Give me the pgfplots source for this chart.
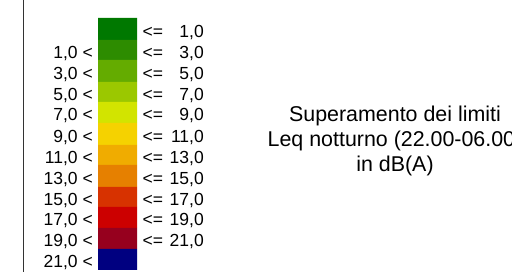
\documentclass[border=0pt]{standalone}
\usepackage{pgfplots}
\pgfplotsset{compat=1.18}
\usepackage{fontspec}
\setmainfont{Liberation Sans}
\definecolor{c1}{HTML}{007800}
\definecolor{c2}{HTML}{2D8C00}
\definecolor{c3}{HTML}{64AC00}
\definecolor{c4}{HTML}{9BC800}
\definecolor{c5}{HTML}{D2E400}
\definecolor{c6}{HTML}{F5D200}
\definecolor{c7}{HTML}{F0AC00}
\definecolor{c8}{HTML}{E68000}
\definecolor{c9}{HTML}{D73200}
\definecolor{c10}{HTML}{CC0000}
\definecolor{c11}{HTML}{96001E}
\definecolor{c12}{HTML}{000080}
\tikzset{
  ll/.style={anchor=base east, inner sep=0pt, font=\fontsize{17.5}{21}\selectfont},
  rl/.style={anchor=base west, inner sep=0pt, font=\fontsize{17.5}{21}\selectfont},
  tl/.style={anchor=base, inner sep=0pt, font=\fontsize{21.4}{25}\selectfont},
}
\begin{document}
\begin{tikzpicture}
\begin{axis}[
  width=512pt, height=272pt, scale only axis,
  xmin=0, xmax=512, ymin=0, ymax=272, y dir=reverse,
  hide axis, clip=false,
]
\addplot[draw=black!80, line width=1pt] coordinates {(23.5,0) (23.5,272)};
\addplot[fill=c1, draw=none] coordinates {(98,18) (137,18) (137,40) (98,40) (98,18)};
\addplot[fill=c2, draw=none] coordinates {(98,40) (137,40) (137,60) (98,60) (98,40)};
\addplot[fill=c3, draw=none] coordinates {(98,60) (137,60) (137,82) (98,82) (98,60)};
\addplot[fill=c4, draw=none] coordinates {(98,82) (137,82) (137,102) (98,102) (98,82)};
\addplot[fill=c5, draw=none] coordinates {(98,102) (137,102) (137,123) (98,123) (98,102)};
\addplot[fill=c6, draw=none] coordinates {(98,123) (137,123) (137,145) (98,145) (98,123)};
\addplot[fill=c7, draw=none] coordinates {(98,145) (137,145) (137,165) (98,165) (98,145)};
\addplot[fill=c8, draw=none] coordinates {(98,165) (137,165) (137,187) (98,187) (98,165)};
\addplot[fill=c9, draw=none] coordinates {(98,187) (137,187) (137,207) (98,207) (98,187)};
\addplot[fill=c10, draw=none] coordinates {(98,207) (137,207) (137,228) (98,228) (98,207)};
\addplot[fill=c11, draw=none] coordinates {(98,228) (137,228) (137,249) (98,249) (98,228)};
\addplot[fill=c12, draw=none] coordinates {(98,249) (137,249) (137,270) (98,270) (98,249)};
% left labels
\node[ll] at (axis cs:93,58.5) {1,0 <};
\node[ll] at (axis cs:93,79.5) {3,0 <};
\node[ll] at (axis cs:93,100.5) {5,0 <};
\node[ll] at (axis cs:93,120.5) {7,0 <};
\node[ll] at (axis cs:93,142.5) {9,0 <};
\node[ll] at (axis cs:93,163.5) {11,0 <};
\node[ll] at (axis cs:93,184.5) {13,0 <};
\node[ll] at (axis cs:93,205.5) {15,0 <};
\node[ll] at (axis cs:93,226) {17,0 <};
\node[ll] at (axis cs:93,247) {19,0 <};
\node[ll] at (axis cs:93,268) {21,0 <};
% right labels
\node[rl] at (axis cs:142.5,37.5) {<=};
\node[rl] at (axis cs:142.5,58.5) {<=};
\node[rl] at (axis cs:142.5,79.5) {<=};
\node[rl] at (axis cs:142.5,100.5) {<=};
\node[rl] at (axis cs:142.5,120.5) {<=};
\node[rl] at (axis cs:142.5,142.5) {<=};
\node[rl] at (axis cs:142.5,163.5) {<=};
\node[rl] at (axis cs:142.5,184.5) {<=};
\node[rl] at (axis cs:142.5,205.5) {<=};
\node[rl] at (axis cs:142.5,226) {<=};
\node[rl] at (axis cs:142.5,247) {<=};
\node[ll] at (axis cs:204,37.5) {1,0};
\node[ll] at (axis cs:204,58.5) {3,0};
\node[ll] at (axis cs:204,79.5) {5,0};
\node[ll] at (axis cs:204,100.5) {7,0};
\node[ll] at (axis cs:204,120.5) {9,0};
\node[ll] at (axis cs:204,142.5) {11,0};
\node[ll] at (axis cs:204,163.5) {13,0};
\node[ll] at (axis cs:204,184.5) {15,0};
\node[ll] at (axis cs:204,205.5) {17,0};
\node[ll] at (axis cs:204,226) {19,0};
\node[ll] at (axis cs:204,247) {21,0};
\node[tl] at (axis cs:395,122) {Superamento dei limiti};
\node[tl] at (axis cs:395,147) {Leq notturno (22.00-06.00)};
\node[tl] at (axis cs:395,172) {in dB(A)};
\end{axis}
\pgfresetboundingbox
\path (current axis.south west) rectangle (current axis.north east);
\end{tikzpicture}
\end{document}
